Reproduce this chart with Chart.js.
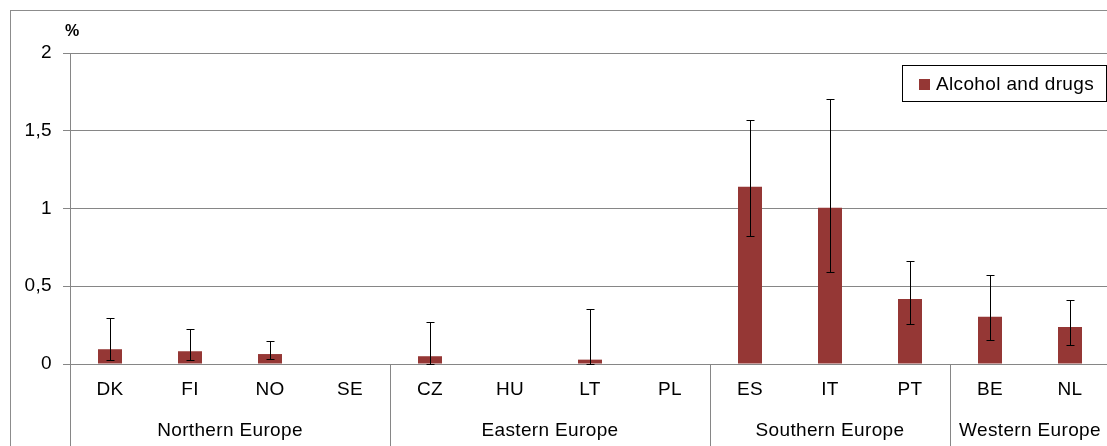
<!DOCTYPE html>
<html>
<head>
<meta charset="utf-8">
<script src="https://cdn.jsdelivr.net/npm/chart.js@4.4.1/dist/chart.umd.min.js"></script>
<style>
  html, body { margin: 0; padding: 0; background: #fff; overflow: hidden; }
  #wrap { position: relative; width: 1112px; height: 446px; }
</style>
</head>
<body>
<div id="wrap"><canvas id="chart"></canvas></div>
<script>
// Countries along the axis, grouped by region
const countries = ['DK', 'FI', 'NO', 'SE', 'CZ', 'HU', 'LT', 'PL', 'ES', 'IT', 'PT', 'BE', 'NL'];
const regions = ['Northern Europe', 'Eastern Europe', 'Southern Europe', 'Western Europe'];
const regionSizes = [4, 4, 3, 2];

// Share (%) with confidence interval bounds
const seriesName = 'Alcohol and drugs';
const share = [0.095, 0.082, 0.064, null, 0.05, null, 0.028, null, 1.14, 1.005, 0.418, 0.304, 0.238];
const ciLow = [0.026, 0.026, 0.03, null, 0, null, 0, null, 0.821, 0.59, 0.259, 0.152, 0.122];
const ciHigh = [0.296, 0.227, 0.146, null, 0.272, null, 0.354, null, 1.571, 1.706, 0.662, 0.572, 0.413];

const yTicks = [0, 0.5, 1, 1.5, 2];

const barColor = '#953735';
const gridColor = '#868686';
const fontFamily = '"Liberation Sans", Arial, sans-serif';

Chart.defaults.font.family = fontFamily;
Chart.defaults.color = '#000';

// frame, "%" unit, region separators and labels, legend box
const decorations = {
  id: 'decorations',
  beforeDraw(chart) {
    const ctx = chart.ctx;
    // slightly wider text, set once per draw so it survives canvas resizes
    ctx.letterSpacing = '0.35px';
    ctx.save();
    ctx.strokeStyle = '#8c8c8c';
    ctx.lineWidth = 1;
    ctx.strokeRect(10.5, 10.5, 2000, 2000);
    ctx.restore();
  },
  afterDraw(chart) {
    const ctx = chart.ctx;
    const x = chart.scales.x;
    const area = chart.chartArea;
    const bottom = chart.height;
    const step = x.getPixelForValue(1) - x.getPixelForValue(0);
    ctx.save();

    // unit label
    ctx.fillStyle = '#000';
    ctx.font = 'bold 16px ' + fontFamily;
    ctx.textAlign = 'left';
    ctx.textBaseline = 'middle';
    ctx.fillText('%', 65, 32);

    // y axis line, carried down through the category rows
    ctx.strokeStyle = gridColor;
    ctx.lineWidth = 1;
    ctx.beginPath();
    ctx.moveTo(Math.round(area.left) + 0.5, area.top);
    ctx.lineTo(Math.round(area.left) + 0.5, bottom);
    ctx.stroke();

    // region separators and names
    let start = 0;
    ctx.font = '19px ' + fontFamily;
    ctx.textAlign = 'center';
    regions.forEach((name, i) => {
      const end = start + regionSizes[i] - 1;
      const left = x.getPixelForValue(start) - step / 2;
      const right = x.getPixelForValue(end) + step / 2;
      ctx.beginPath();
      ctx.moveTo(Math.round(right) + 0.5, area.bottom);
      ctx.lineTo(Math.round(right) + 0.5, bottom);
      ctx.stroke();
      ctx.fillText(name, (left + right) / 2, 431);
      start = end + 1;
    });

    // legend
    const ds = chart.data.datasets[0];
    ctx.fillStyle = '#fff';
    ctx.fillRect(902, 65, 205, 37);
    ctx.strokeStyle = '#000';
    ctx.strokeRect(902.5, 65.5, 204, 36);
    ctx.fillStyle = ds.backgroundColor;
    ctx.fillRect(919, 79, 11, 11);
    ctx.fillStyle = '#000';
    ctx.textAlign = 'left';
    ctx.fillText(ds.label, 936, 85);

    ctx.restore();
  }
};

// confidence interval whiskers
const errorBars = {
  id: 'errorBars',
  afterDatasetsDraw(chart) {
    const ctx = chart.ctx;
    const y = chart.scales.y;
    const meta = chart.getDatasetMeta(0);
    ctx.save();
    ctx.strokeStyle = '#000';
    ctx.lineWidth = 1;
    meta.data.forEach((bar, i) => {
      if (ciLow[i] == null || ciHigh[i] == null) return;
      const cx = Math.round(bar.x) + 0.5;
      const top = Math.round(y.getPixelForValue(ciHigh[i])) + 0.5;
      const low = Math.round(y.getPixelForValue(ciLow[i])) + 0.5;
      ctx.beginPath();
      ctx.moveTo(cx, top);
      ctx.lineTo(cx, low);
      ctx.moveTo(cx - 4, top);
      ctx.lineTo(cx + 4, top);
      ctx.moveTo(cx - 4, low);
      ctx.lineTo(cx + 4, low);
      ctx.stroke();
    });
    ctx.restore();
  }
};

new Chart(document.getElementById('chart'), {
  type: 'bar',
  data: {
    labels: countries,
    datasets: [{
      label: seriesName,
      data: share,
      backgroundColor: barColor,
      categoryPercentage: 1,
      barPercentage: 0.3
    }]
  },
  options: {
    responsive: true,
    maintainAspectRatio: false,
    animation: false,
    layout: { padding: { left: 0, top: 53, right: 2, bottom: 0 } },
    plugins: {
      legend: { display: false },
      tooltip: { enabled: false }
    },
    scales: {
      x: {
        grid: { display: false, drawTicks: false },
        border: { display: false },
        ticks: { font: { size: 19 }, padding: 14, maxRotation: 0, autoSkip: false },
        afterFit(scale) { scale.height = 82; }
      },
      y: {
        min: 0,
        max: 2,
        afterBuildTicks(scale) { scale.ticks = yTicks.map(v => ({ value: v })); },
        grid: { color: gridColor, tickLength: 7, drawTicks: true },
        border: { display: false },
        ticks: {
          font: { size: 19 },
          padding: 11,
          callback: v => String(v).replace('.', ',')
        },
        afterFit(scale) { scale.width = 70; }
      }
    }
  },
  plugins: [decorations, errorBars]
});
</script>
</body>
</html>
